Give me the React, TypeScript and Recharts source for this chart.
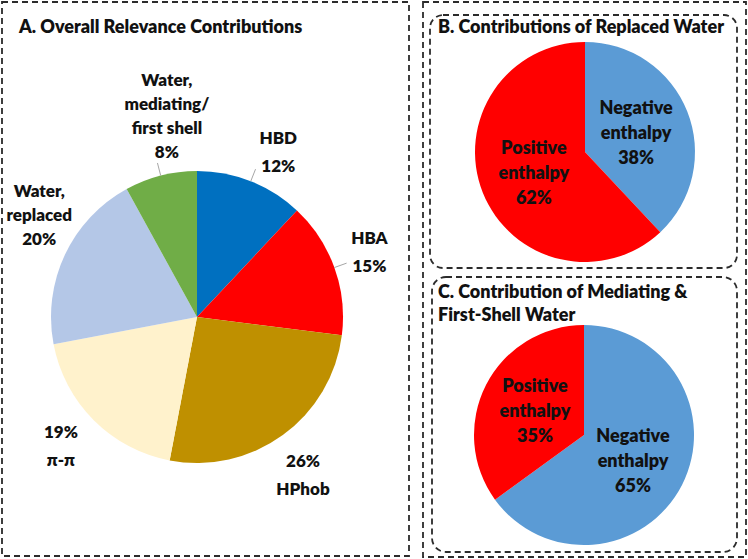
import React from 'react';
import { PieChart, Pie, Cell } from 'recharts';

// panel A – overall relevance contributions (clockwise from 12 o'clock)
const overallNames = ['HBD', 'HBA', 'HPhob', 'π-π', 'Water, replaced', 'Water, mediating/ first shell'];
const overallLines = [['HBD'], ['HBA'], ['HPhob'], ['π-π'], ['Water,', 'replaced'], ['Water,', 'mediating/', 'first shell']];
const overallValues = [12, 15, 26, 19, 20, 8];
const overallPercentFirst = [false, false, true, true, false, false];
const overallColors = ['#0070C0', '#FF0000', '#BF9000', '#FFF2CC', '#B4C7E7', '#70AD47'];

// panel B – replaced water
const replacedNames = ['Negative enthalpy', 'Positive enthalpy'];
const replacedValues = [38, 62];

// panel C – mediating & first-shell water
const mediatingNames = ['Negative enthalpy', 'Positive enthalpy'];
const mediatingValues = [65, 35];

const enthalpyLines = [['Negative', 'enthalpy'], ['Positive', 'enthalpy']];
const enthalpyColors = ['#5B9BD5', '#FF0000'];

// label layout tweaks for panel A (outside labels, like Excel "best fit")
const overallNudge = [[13, 7], [-2, -3], [-3, 7], [-5, -3], [10, -24], [16, -22]];
const overallLeader = [true, true, false, false, false, true];

const FONT = 'Lato, "Open Sans", sans-serif';
const RAD = Math.PI / 180;

const polar = (cx: number, cy: number, r: number, angle: number) => ({
  x: cx + r * Math.cos(-angle * RAD),
  y: cy + r * Math.sin(-angle * RAD),
});

const overallData = overallNames.map((name, i) => ({
  name,
  value: overallValues[i],
  lines: overallPercentFirst[i]
    ? [`${overallValues[i]}%`, ...overallLines[i]]
    : [...overallLines[i], `${overallValues[i]}%`],
}));

const replacedData = replacedNames.map((name, i) => ({
  name,
  value: replacedValues[i],
  lines: [...enthalpyLines[i], `${replacedValues[i]}%`],
}));

const mediatingData = mediatingNames.map((name, i) => ({
  name,
  value: mediatingValues[i],
  lines: [...enthalpyLines[i], `${mediatingValues[i]}%`],
}));

const OuterLabel = (props: any) => {
  const { cx, cy, midAngle, outerRadius, index, payload } = props;
  const lines: string[] = payload.lines;
  const lh = lines.length > 2 ? 24 : 28;
  const p = polar(cx, cy, outerRadius * 1.27, midAngle);
  const x = p.x + overallNudge[index][0];
  const y = p.y + overallNudge[index][1];
  const top = y - ((lines.length - 1) * lh) / 2;
  const a = polar(cx, cy, outerRadius, midAngle);
  const b = polar(cx, cy, outerRadius + 13, midAngle);
  return (
    <g>
      {overallLeader[index] && (
        <line x1={a.x} y1={a.y} x2={b.x} y2={b.y} stroke="#A6A6A6" strokeWidth={1} />
      )}
      <text textAnchor="middle" fontFamily={FONT} fontWeight={800} fontSize={17} fill="#111">
        {lines.map((t, i) => (
          <tspan key={i} x={x} y={top + i * lh} dominantBaseline="central">
            {t}
          </tspan>
        ))}
      </text>
    </g>
  );
};

const InnerLabel = (props: any) => {
  const { cx, cy, midAngle, outerRadius, payload } = props;
  const lines: string[] = payload.lines;
  const lh = 25;
  const p = polar(cx, cy, outerRadius * 0.5, midAngle);
  const top = p.y - ((lines.length - 1) * lh) / 2;
  return (
    <text textAnchor="middle" fontFamily={FONT} fontWeight={800} fontSize={18} fill="#111">
      {lines.map((t, i) => (
        <tspan key={i} x={p.x} y={top + i * lh} dominantBaseline="central">
          {t}
        </tspan>
      ))}
    </text>
  );
};

const titleStyle: React.CSSProperties = {
  position: 'absolute',
  fontFamily: FONT,
  fontWeight: 800,
  fontSize: 18,
  color: '#111',
  lineHeight: '23px',
  whiteSpace: 'nowrap',
};

const App = () => {
  return (
    <div style={{ position: 'absolute', left: 0, top: 0, width: 748, height: 559, background: '#fff' }}>
      <svg width={748} height={559} style={{ position: 'absolute', left: 0, top: 0 }}>
        <g fill="none" stroke="#2b2b2b" strokeWidth={1.8} strokeDasharray="6 4">
          <rect x={2} y={2} width={407} height={554} />
          <rect x={423} y={2} width={323} height={555} />
          <rect x={430} y={15} width={307} height={253} rx={13} />
          <rect x={432} y={277} width={305} height={275} rx={14} />
        </g>
      </svg>

      <div style={{ position: 'absolute', left: 0, top: 0 }}>
        <PieChart width={748} height={559} margin={{ top: 0, right: 0, bottom: 0, left: 0 }}>
          <Pie
            data={overallData}
            dataKey="value"
            cx={197}
            cy={317}
            outerRadius={146}
            startAngle={90}
            endAngle={-270}
            stroke="none"
            label={OuterLabel}
            labelLine={false}
            isAnimationActive={false}
          >
            {overallData.map((d, i) => (
              <Cell key={d.name} fill={overallColors[i]} />
            ))}
          </Pie>
          <Pie
            data={replacedData}
            dataKey="value"
            cx={585}
            cy={152}
            outerRadius={110}
            startAngle={90}
            endAngle={-270}
            stroke="none"
            label={InnerLabel}
            labelLine={false}
            isAnimationActive={false}
          >
            {replacedData.map((d, i) => (
              <Cell key={d.name} fill={enthalpyColors[i]} />
            ))}
          </Pie>
          <Pie
            data={mediatingData}
            dataKey="value"
            cx={584}
            cy={435}
            outerRadius={110}
            startAngle={90}
            endAngle={-270}
            stroke="none"
            label={InnerLabel}
            labelLine={false}
            isAnimationActive={false}
          >
            {mediatingData.map((d, i) => (
              <Cell key={d.name} fill={enthalpyColors[i]} />
            ))}
          </Pie>
        </PieChart>
      </div>

      <div style={{ ...titleStyle, left: 19, top: 15 }}>A. Overall Relevance Contributions</div>
      <div style={{ ...titleStyle, left: 438, top: 15 }}>B. Contributions of Replaced Water</div>
      <div style={{ ...titleStyle, left: 438, top: 280 }}>
        C. Contribution of Mediating &amp;
        <br />
        First-Shell Water
      </div>
    </div>
  );
};

export default App;
